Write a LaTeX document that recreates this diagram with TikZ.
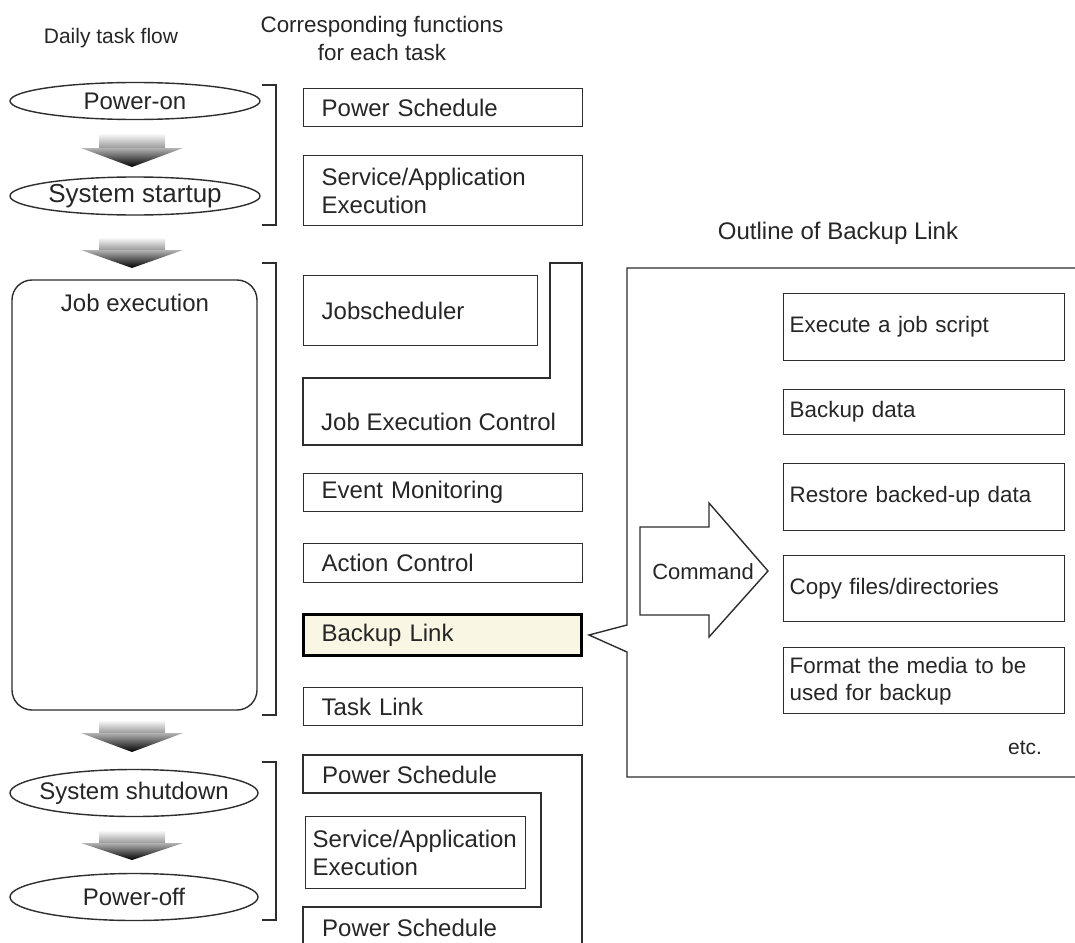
\documentclass[tikz,border=0pt]{standalone}
\usepackage{fontspec}
\setmainfont{Liberation Sans}
\usetikzlibrary{shapes.geometric}
\newcommand{\fsz}[2]{\fontsize{#1}{#2}\selectfont}
\definecolor{linec}{HTML}{2E2E2E}
\definecolor{txtc}{HTML}{262626}
\definecolor{cream}{RGB}{250,246,228}
\newcommand{\flowarrow}[4]{%
  \shade[top color=white, bottom color=gray!80] ({#1-33},#2) rectangle ({#1+33},#3);
  \shade[top color=gray!60, bottom color=black] ({#1-51},#3) -- ({#1+51},#3) -- (#1,#4) -- cycle;}
\begin{document}
\begin{tikzpicture}[x=1pt,y=-1pt,
  ln/.style={draw=linec, line width=1.4pt},
  lbox/.style={ln, rectangle, anchor=north west, minimum width=279pt, text width=243pt,
     inner xsep=18pt, inner ysep=0pt, align=left, font=\fsz{24pt}{28pt}, text=txtc},
  rbox/.style={ln, rectangle, anchor=north west, minimum width=281pt, text width=269pt,
     inner xsep=6pt, inner ysep=0pt, align=left, font=\fsz{22.4pt}{27pt}, text=txtc},
  ell/.style={ln, ellipse, inner sep=0pt, font=\fsz{24pt}{28pt}, text=txtc},
  lbl/.style={inner sep=0pt, text=txtc, font=\fsz{24pt}{28pt}},
  hdr/.style={inner sep=0pt, text=txtc, font=\fsz{22.4pt}{28pt}, align=center}]
\useasboundingbox (0,0) rectangle (1075,942);
\fill[white] (0,0) rectangle (1075,942);

% headers
\node[hdr, font=\fsz{21pt}{26pt}] (h1) at (111,38) {Daily task flow};
\node[hdr] (h2) at (382,38) {Corresponding functions\\for each task};
\node[hdr, font=\fsz{24pt}{28pt}] (h3) at (838,233) {Outline of Backup Link};

% daily task flow
\node[ell, minimum width=250pt, minimum height=37pt] (pon) at (135,101) {\makebox[0pt]{Power-on}};
\node[ell, minimum width=250pt, minimum height=38pt, font=\fsz{26pt}{30pt}] (sst) at (135,196) {\makebox[0pt]{System startup}};
\draw[ln, rounded corners=20pt] (12,280) rectangle (257,710);
\node[lbl] (job) at (135,303) {Job execution};
\node[ell, minimum width=248pt, minimum height=47pt] (ssd) at (134,793) {\makebox[0pt]{System shutdown}};
\node[ell, minimum width=248pt, minimum height=47pt] (poff) at (134,897) {\makebox[0pt]{Power-off}};

\flowarrow{132}{133}{148}{167}
\flowarrow{132}{237}{250}{268}
\flowarrow{132}{720}{733}{752}
\flowarrow{132}{830}{843}{860}

% brackets
\draw[ln] (262,85) -- (276,85) -- (276,225) -- (262,225);
\draw[ln] (262,263) -- (276,263) -- (276,715) -- (262,715);
\draw[ln] (262,762) -- (276,762) -- (276,920) -- (262,920);

% functions
\node[lbox, minimum height=38pt] (ps1) at (303,88) {Power Schedule};
\node[lbox, minimum height=70pt] (sa1) at (303,155) {Service/Application\\Execution};
\node[lbox, minimum width=234pt, text width=198pt, minimum height=70pt] (jsch) at (303,275) {Jobscheduler};
\draw[ln] (303,378) -- (550,378) -- (550,263) -- (582,263) -- (582,445) -- (303,445) -- cycle;
\node[lbl, anchor=west] (jec) at (321,422) {Job Execution Control};
\node[lbox, minimum height=38pt] (evm) at (303,473) {Event Monitoring};
\node[lbox, minimum height=39pt] (acc) at (303,543) {Action Control};
\node[lbox, draw=black, line width=3pt, fill=cream, minimum width=278pt, text width=242pt, minimum height=41pt] (bkl) at (302,613) {Backup Link};
\node[lbox, minimum height=38pt] (tkl) at (303,687) {Task Link};

% bottom power schedule group
\draw[ln] (303,943) -- (303,907) -- (541,907) -- (541,793) -- (303,793) -- (303,755) -- (582,755) -- (582,943);
\node[lbl, anchor=west] (ps2) at (322,775) {Power Schedule};
\node[lbox, minimum width=220pt, text width=206pt, inner xsep=7pt, minimum height=72pt] (sa2) at (305,816) {Service/Application\\Execution};
\node[lbl, anchor=west] (ps3) at (322,928) {Power Schedule};

% callout
\draw[ln] (1076,268) -- (627,268) -- (627,625) -- (589,635) -- (627,652) -- (627,777) -- (1076,777);
\draw[ln] (640,527) -- (709,527) -- (709,503) -- (768,571) -- (709,637) -- (709,615) -- (640,615) -- cycle;
\node[lbl, font=\fsz{22pt}{26pt}] (cmd) at (703,572) {Command};

\node[rbox, minimum height=67pt] (r1) at (783,293) {Execute a job script};
\node[rbox, minimum height=45pt] (r2) at (783,389) {Backup data};
\node[rbox, minimum height=67pt] (r3) at (783,463) {Restore backed-up data};
\node[rbox, minimum height=66pt] (r4) at (783,555) {Copy files/directories};
\node[rbox, minimum height=66pt] (r5) at (783,647) {Format the media to be\\used for backup};
\node[lbl, font=\fsz{21pt}{25pt}] (etc) at (1025,748) {etc.};
\end{tikzpicture}
\end{document}
